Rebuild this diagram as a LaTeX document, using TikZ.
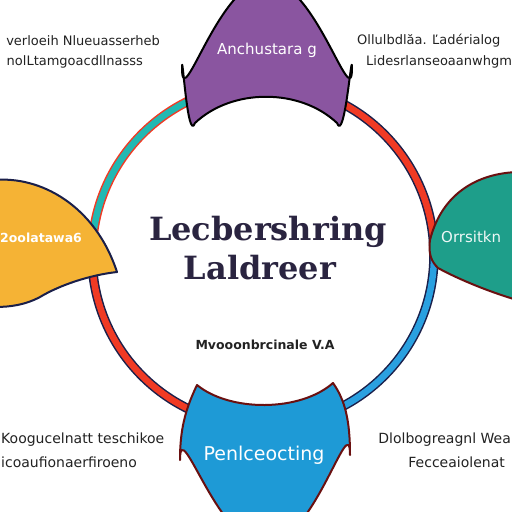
\documentclass[tikz,border=0pt]{standalone}
\usepackage{fontspec}
\setmainfont{DejaVu Sans}
\newfontfamily\titlefont{DejaVu Serif}
\definecolor{purplec}{HTML}{8A55A0}
\definecolor{yellowc}{HTML}{F5B335}
\definecolor{tealc}{HTML}{1E9E8A}
\definecolor{bluec}{HTML}{1E9AD6}
\definecolor{ringteal}{HTML}{22B8B2}
\definecolor{ringred}{HTML}{F03A24}
\definecolor{ringblue}{HTML}{2AA0E0}
\definecolor{navyc}{HTML}{1A1F4A}
\definecolor{maroonc}{HTML}{6A1010}
\definecolor{titlec}{HTML}{2A2440}
\definecolor{txtc}{HTML}{222222}
\tikzset{
  side/.style={font=\fontsize{14}{16}\selectfont, text=txtc, inner sep=0pt},
  sidetop/.style={side, font=\fontsize{13}{15}\selectfont},
  inlabel/.style={font=\fontsize{15}{18}\selectfont, text=white, inner sep=0pt},
  ringout/.style={line width=9.5pt},
  ringin/.style={line width=6.5pt},
  blob/.style={line width=2pt, line join=round}
}
\begin{document}
\begin{tikzpicture}[x=1pt,y=-1pt]
\useasboundingbox (0,0) rectangle (512,512);
\clip (0,0) rectangle (512,512);
\fill[white] (0,0) rectangle (512,512);
% ring
\draw[ringout, ringred] (92,255) arc[start angle=180, end angle=270, radius=171];
\draw[ringin, ringteal] (92,255) arc[start angle=180, end angle=270, radius=171];
\draw[ringout, navyc] (263,84) arc[start angle=270, end angle=360, radius=171];
\draw[ringin, ringred] (263,84) arc[start angle=270, end angle=360, radius=171];
\draw[ringout, navyc] (434,255) arc[start angle=0, end angle=90, radius=171];
\draw[ringin, ringblue] (434,255) arc[start angle=0, end angle=90, radius=171];
\draw[ringout, navyc] (263,426) arc[start angle=90, end angle=180, radius=171];
\draw[ringin, ringred] (263,426) arc[start angle=90, end angle=180, radius=171];
% purple top
\draw[blob, fill=purplec, draw=black] (195,123) to[out=250,in=90] (182,68)
  to[out=270,in=180] (267,-20) to[out=0,in=270] (352,68)
  to[out=90,in=290] (337,123)
  .. controls (300,88) and (232,88) .. cycle;
% blue bottom
\draw[blob, fill=bluec, draw=maroonc] (197,385) .. controls (185,410) and (180,430) .. (180,460)
  to[out=90,in=180] (265,545) to[out=0,in=90] (350,455)
  .. controls (350,420) and (345,400) .. (333,383)
  .. controls (300,412) and (230,412) .. cycle;
% yellow left
\draw[blob, fill=yellowc, draw=navyc] (-5,180) .. controls (40,176) and (95,205) .. (117,272)
  .. controls (90,275) and (60,285) .. (40,297) .. controls (25,305) and (10,307) .. (-5,307) -- cycle;
% teal right
\draw[blob, fill=tealc, draw=maroonc] (517,172) .. controls (470,174) and (440,200) .. (430,240)
  .. controls (428,255) and (432,262) .. (438,268) .. controls (460,280) and (490,292) .. (517,300) -- cycle;
% labels inside shapes
\node[inlabel] (lp) at (267,50) {Anchustara g};
\node[inlabel, anchor=west, font=\bfseries\fontsize{12.5}{15}\selectfont] (ly) at (0,238) {2oolatawa6};
\node[inlabel, anchor=west, text=white!92!tealc] (lt) at (441,237) {Orrsitkn};
\node[inlabel, font=\fontsize{19}{22}\selectfont] (lb) at (264,455) {Penlceocting};
% title
\node[font=\titlefont\bfseries\fontsize{32}{38}\selectfont, text=titlec, inner sep=0pt] (t1) at (268,232) {Lecbershring};
\node[font=\titlefont\bfseries\fontsize{32}{38}\selectfont, text=titlec, inner sep=0pt] (t2) at (260,268) {Laldreer};
\node[font=\bfseries\fontsize{12.5}{15}\selectfont, text=txtc, inner sep=0pt] (sub) at (265,345) {Mvooonbrcinale V.A};
% side texts
\node[sidetop, anchor=east] (tl1) at (160,41) {verloeih Nlueuasserheb};
\node[sidetop, anchor=east] (tl2) at (143,62) {nolLtamgoacdllnasss};
\node[sidetop, anchor=west] (tr1) at (357,41) {Ollulbdlăa. Ľadérialog};
\node[sidetop, anchor=west] (tr2) at (366,62) {Lidesrlanseoaanwhgm};
\node[side, anchor=west] (bl1) at (1,440) {Koogucelnatt teschikoe};
\node[side, anchor=west] (bl2) at (1,462) {icoaufionaerfiroeno};
\node[side, anchor=east] (br1) at (511,440) {Dlolbogreagnl Wea};
\node[side, anchor=east] (br2) at (505,462) {Fecceaiolenat};
\end{tikzpicture}
\end{document}
